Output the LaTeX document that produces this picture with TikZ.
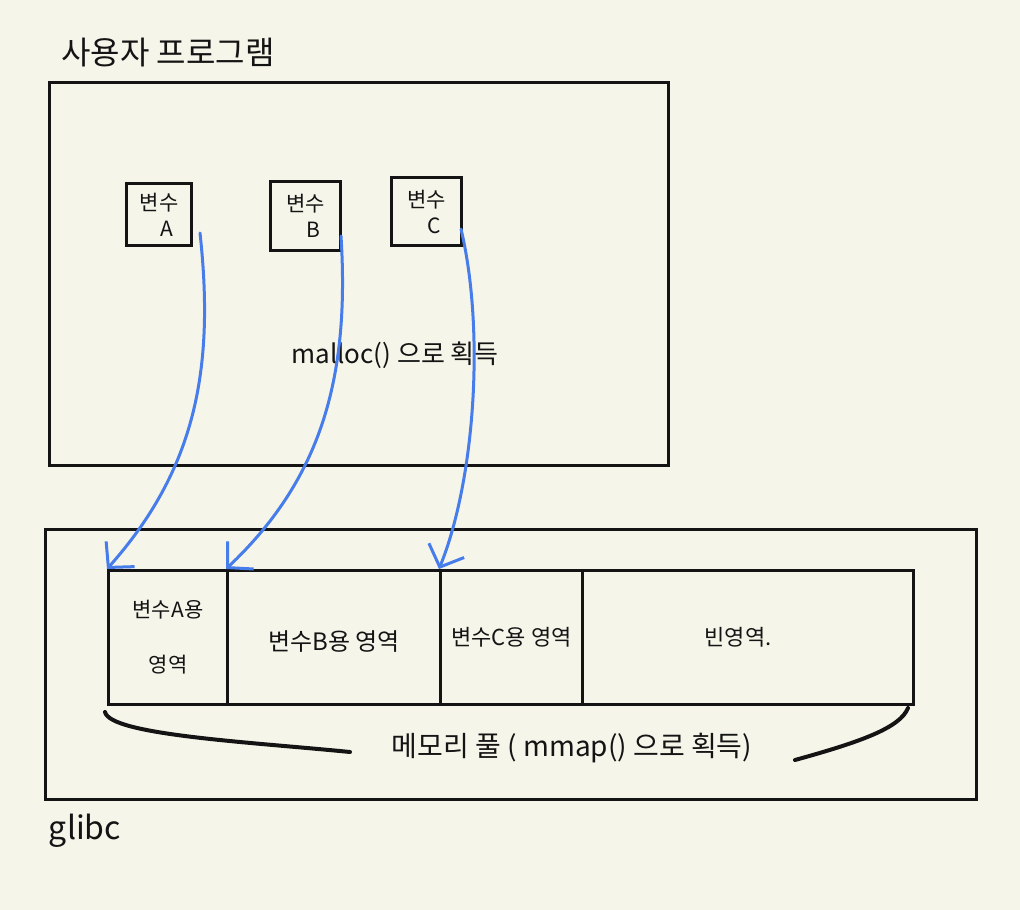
\documentclass[tikz,border=0pt]{standalone}
\usepackage{fontspec}
\setmainfont{Noto Sans CJK KR}
\usetikzlibrary{arrows.meta,calc}
\definecolor{bg}{RGB}{246,245,234}
\definecolor{pen}{RGB}{20,20,20}
\definecolor{blueink}{RGB}{70,125,235}
\begin{document}
\begin{tikzpicture}[x=1pt,y=-1pt,
  box/.style={draw=pen,line width=3pt,inner sep=0pt,anchor=north west},
  cell/.style={draw=pen,line width=3pt,inner sep=0pt,anchor=north west,minimum height=134pt},
  lbl/.style={text=pen,inner sep=0pt},
  varlbl/.style={lbl,align=center,font=\fontsize{21}{26}\selectfont},
  conn/.style={draw=blueink,line width=3pt,line cap=round,-{Straight Barb[length=18pt,width=38pt,line width=3pt]}},
  brace/.style={draw=pen,line width=4pt,line cap=round}]
\fill[bg] (0,0) rectangle (1020,910);
\useasboundingbox (0,0) rectangle (1020,910);

% user program
\node[lbl,font=\fontsize{32}{34}\selectfont] (title) at (168,53) {사용자 프로그램};
\node[box,minimum width=619pt,minimum height=383pt] (user) at (48,81) {};
\node[box,minimum width=65pt,minimum height=62pt] (varA) at (125,182) {};
\node[box,minimum width=70pt,minimum height=69pt] (varB) at (269,180) {};
\node[box,minimum width=70pt,minimum height=68pt] (varC) at (390,176) {};
\node[varlbl] (tA) at (varA.center) {변수\\\hspace*{16pt}A};
\node[varlbl] (tB) at (varB.center) {변수\\\hspace*{16pt}B};
\node[varlbl] (tC) at (varC.center) {변수\\\hspace*{16pt}C};
\node[lbl,font=\fontsize{26}{28}\selectfont] (malloc) at (395,355) {malloc() 으로 획득};

% glibc
\node[box,minimum width=931pt,minimum height=270pt] (glibc) at (44,528) {};
\node[lbl,font=\fontsize{32}{34}\selectfont] (glibctext) at (85,831) {glibc};
\node[cell,minimum width=119pt] (regA) at (107,569) {};
\node[cell,minimum width=213pt] (regB) at (226,569) {};
\node[cell,minimum width=142pt] (regC) at (439,569) {};
\node[cell,minimum width=331pt] (regE) at (581,569) {};
\node[lbl,align=center,font=\fontsize{21}{55}\selectfont] (rA) at (regA.center) {변수A용\\영역};
\node[lbl,font=\fontsize{24}{28}\selectfont] (rB) at ([yshift=-4pt]regB.center) {변수B용 영역};
\node[lbl,font=\fontsize{22}{24}\selectfont] (rC) at (regC.center) {변수C용 영역};
\node[lbl,font=\fontsize{22}{24}\selectfont] (rE) at ([xshift=-10pt]regE.center) {빈영역.};

% brace
\draw[brace] (105,712) .. controls (110,735) and (250,742) .. (350,752);
\draw[brace] (795,760) .. controls (860,742) and (900,728) .. (908,708);
\node[lbl,font=\fontsize{28}{30}\selectfont] (pool) at (572,748) {메모리 풀 ( mmap() 으로 획득)};

% arrows
\draw[conn] ($(varA.south east)+(7,-14)$) .. controls (215,370) and (195,470) .. (regA.north west);
\draw[conn] ($(varB.south east)+(-1,-16)$) .. controls (350,380) and (320,480) .. (regB.north west);
\draw[conn] ($(varC.south east)+(-2,-18)$) .. controls (485,330) and (475,480) .. (regC.north west);
\end{tikzpicture}
\end{document}
